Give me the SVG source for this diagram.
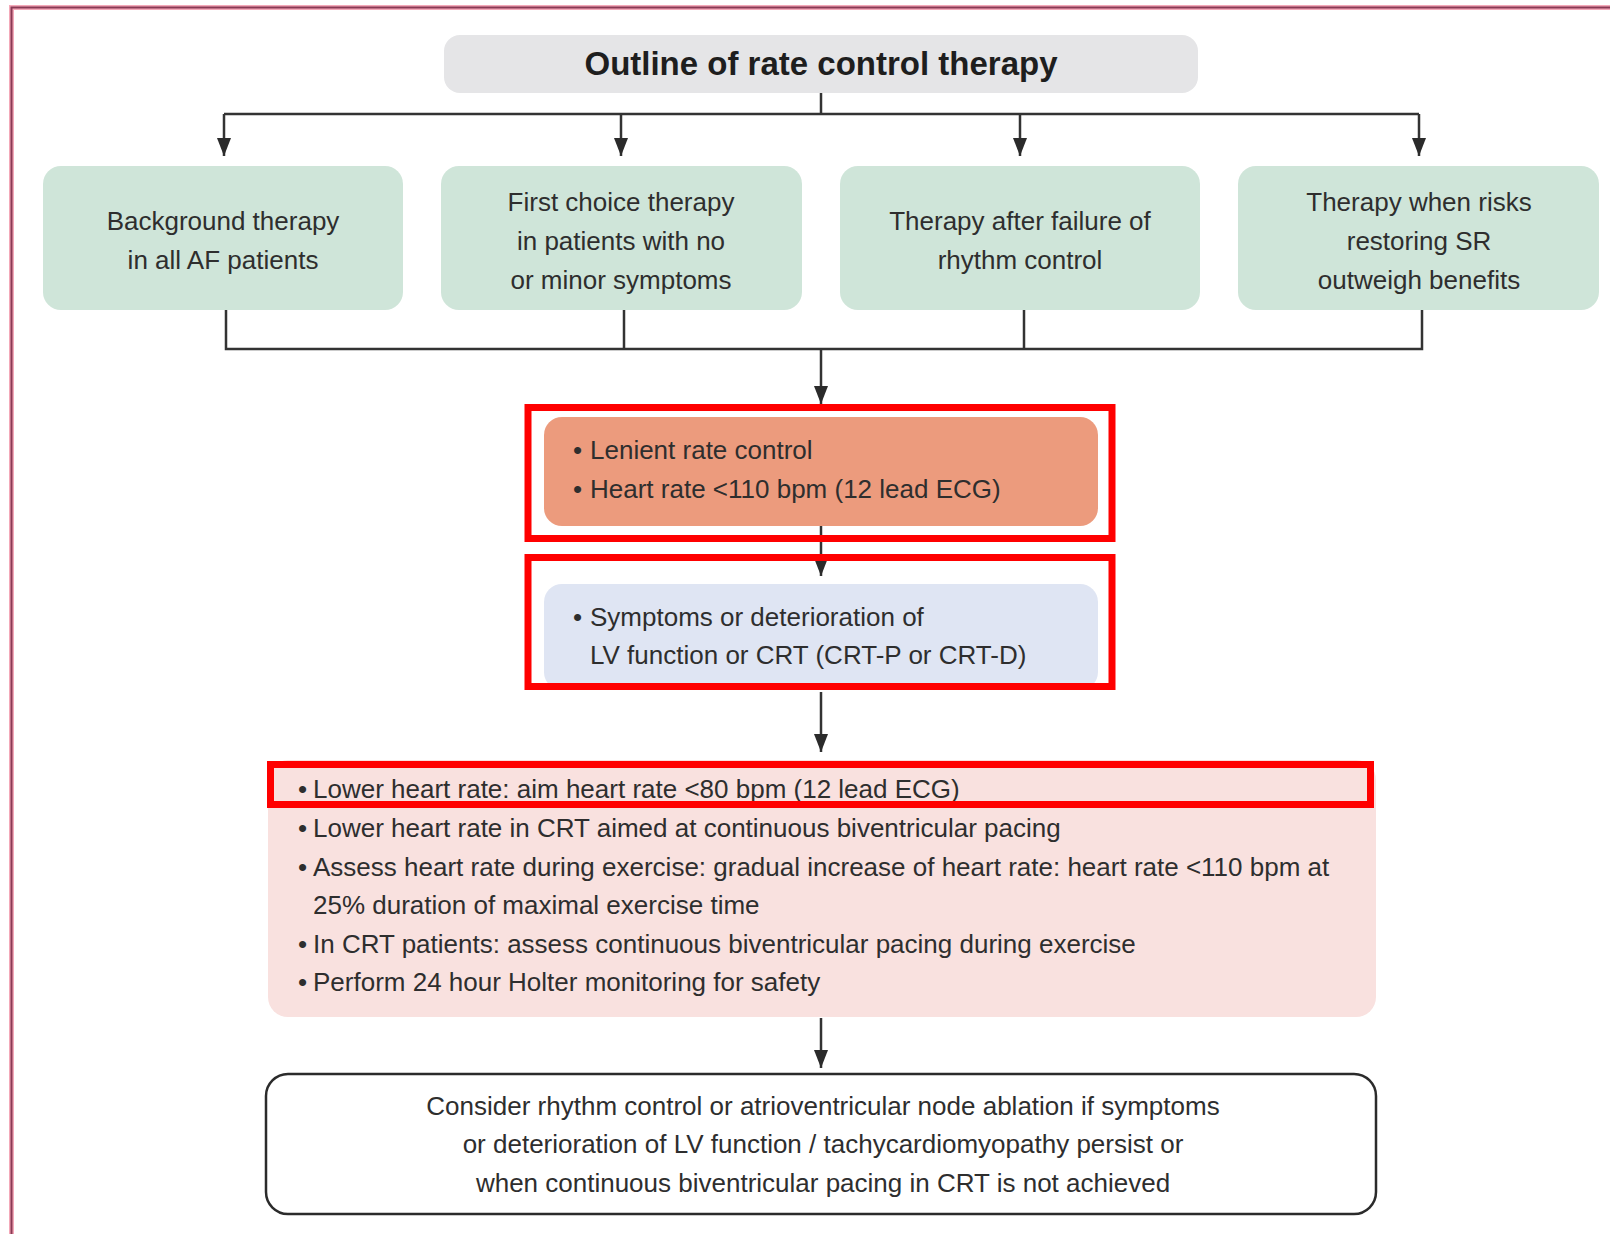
<svg xmlns="http://www.w3.org/2000/svg" width="1610" height="1234" viewBox="0 0 1610 1234">
  <style>
    text { font-family: "Liberation Sans", Arial, sans-serif; fill: #2e2e2e; }
    .title { font-size: 33px; font-weight: bold; fill: #1e1e1e; }
    .lbl { font-size: 26px; }
    .mid { text-anchor: middle; }
    .green { fill: #cfe5d9; }
    .wire { fill: none; stroke: #333333; stroke-width: 2.5; }
    .hl { fill: none; stroke: #ff0000; stroke-width: 7; }
  </style>
  <defs>
    <marker id="arrow" markerUnits="userSpaceOnUse" markerWidth="16" markerHeight="18" viewBox="0 0 16 18" refX="8" refY="17" orient="auto-start-reverse">
      <path d="M0,0 L16,0 L8,18 Z" fill="#2b2b2b" transform="rotate(0)"/>
    </marker>
    <marker id="tip" markerUnits="userSpaceOnUse" markerWidth="14" markerHeight="18" viewBox="0 0 14 18" refX="7" refY="18" orient="0">
      <path d="M0,0 L14,0 L7,18 Z" fill="#2b2b2b"/>
    </marker>
  </defs>

  <rect width="1610" height="1234" fill="#ffffff"/>

  <!-- page frame -->
  <g id="frame">
    <path d="M11.5,1234 V7.5 H1610" fill="none" stroke="#f4a9b9" stroke-width="5"/>
    <path d="M11.5,1234 V7.5 H1610" fill="none" stroke="#8a3a55" stroke-width="2"/>
  </g>

  <!-- connectors -->
  <g id="connectors">
    <path class="wire" d="M821,93 V114"/>
    <path class="wire" d="M224,114 H1419"/>
    <path class="wire" d="M224,114 V156" marker-end="url(#tip)"/>
    <path class="wire" d="M621,114 V156" marker-end="url(#tip)"/>
    <path class="wire" d="M1020,114 V156" marker-end="url(#tip)"/>
    <path class="wire" d="M1419,114 V156" marker-end="url(#tip)"/>
    <path class="wire" d="M226,310 V349 H1422 V310"/>
    <path class="wire" d="M624,310 V349"/>
    <path class="wire" d="M1024,310 V349"/>
    <path class="wire" d="M821,349 V404" marker-end="url(#tip)"/>
    <path class="wire" d="M821,526 V576" marker-end="url(#tip)"/>
    <path class="wire" d="M821,692 V752" marker-end="url(#tip)"/>
    <path class="wire" d="M821,1018 V1068" marker-end="url(#tip)"/>
  </g>

  <g id="title">
    <rect x="444" y="35" width="754" height="58" rx="16" fill="#e5e5e7"/>
    <text class="title mid" x="821" y="75">Outline of rate control therapy</text>
  </g>

  <g id="background-therapy">
    <rect class="green" x="43" y="166" width="360" height="144" rx="18"/>
    <text class="lbl mid" x="223" y="230">Background therapy</text>
    <text class="lbl mid" x="223" y="269">in all AF patients</text>
  </g>

  <g id="first-choice">
    <rect class="green" x="441" y="166" width="361" height="144" rx="18"/>
    <text class="lbl mid" x="621" y="211">First choice therapy</text>
    <text class="lbl mid" x="621" y="250">in patients with no</text>
    <text class="lbl mid" x="621" y="289">or minor symptoms</text>
  </g>

  <g id="after-failure">
    <rect class="green" x="840" y="166" width="360" height="144" rx="18"/>
    <text class="lbl mid" x="1020" y="230">Therapy after failure of</text>
    <text class="lbl mid" x="1020" y="269">rhythm control</text>
  </g>

  <g id="risks-outweigh">
    <rect class="green" x="1238" y="166" width="361" height="144" rx="18"/>
    <text class="lbl mid" x="1419" y="211">Therapy when risks</text>
    <text class="lbl mid" x="1419" y="250">restoring SR</text>
    <text class="lbl mid" x="1419" y="289">outweigh benefits</text>
  </g>

  <g id="lenient">
    <rect x="544" y="417" width="554" height="109" rx="18" fill="#ec9b7d"/>
    <text class="lbl" x="573" y="459">•<tspan x="590">Lenient rate control</tspan></text>
    <text class="lbl" x="573" y="498">•<tspan x="590">Heart rate &lt;110 bpm (12 lead ECG)</tspan></text>
    <rect class="hl" x="528" y="407.5" width="584" height="131"/>
  </g>

  <g id="symptoms">
    <rect x="544" y="584" width="554" height="106" rx="18" fill="#dfe5f3"/>
    <text class="lbl" x="573" y="626">•<tspan x="590">Symptoms or deterioration of</tspan></text>
    <text class="lbl" x="590" y="664">LV function or CRT (CRT-P or CRT-D)</text>
    <rect class="hl" x="528" y="557.5" width="584" height="129"/>
  </g>

  <g id="stricter">
    <rect x="268" y="760" width="1108" height="257" rx="20" fill="#f9e1df"/>
    <text class="lbl" x="298" y="798">•<tspan x="313">Lower heart rate: aim heart rate &lt;80 bpm (12 lead ECG)</tspan></text>
    <text class="lbl" x="298" y="837">•<tspan x="313">Lower heart rate in CRT aimed at continuous biventricular pacing</tspan></text>
    <text class="lbl" x="298" y="876">•<tspan x="313">Assess heart rate during exercise: gradual increase of heart rate: heart rate &lt;110 bpm at</tspan></text>
    <text class="lbl" x="313" y="914">25% duration of maximal exercise time</text>
    <text class="lbl" x="298" y="953">•<tspan x="313">In CRT patients: assess continuous biventricular pacing during exercise</tspan></text>
    <text class="lbl" x="298" y="991">•<tspan x="313">Perform 24 hour Holter monitoring for safety</tspan></text>
    <rect class="hl" x="270.5" y="764.5" width="1100" height="40"/>
  </g>

  <g id="consider">
    <rect x="266" y="1074" width="1110" height="140" rx="22" fill="#ffffff" stroke="#2b2b2b" stroke-width="2.5"/>
    <text class="lbl mid" x="823" y="1115">Consider rhythm control or atrioventricular node ablation if symptoms</text>
    <text class="lbl mid" x="823" y="1153">or deterioration of LV function / tachycardiomyopathy persist or</text>
    <text class="lbl mid" x="823" y="1192">when continuous biventricular pacing in CRT is not achieved</text>
  </g>
</svg>
